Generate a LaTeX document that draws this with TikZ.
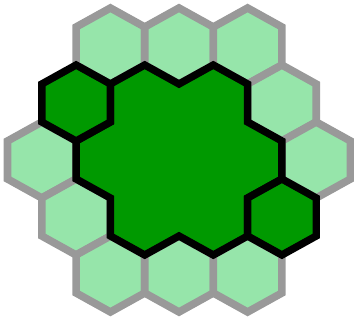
\documentclass[tikz,border=0pt]{standalone}
\usepackage{tikz}
\usetikzlibrary{calc}

\definecolor{palegreen}{RGB}{150,229,170}
\definecolor{deepgreen}{RGB}{0,153,0}
\definecolor{rimgray}{RGB}{153,153,153}

\begin{document}
\begin{tikzpicture}[
  x=34.3pt, y=-19pt,
  lighthex/.style={fill=palegreen,draw=rimgray,line width=7.6pt},
  darkhex/.style={fill=deepgreen,draw=black,line width=7.4pt}
]
\useasboundingbox (-5.219,-8.421) rectangle (5.102,8.526);
% outer ring of pale cells
\foreach \i/\u in {-2/-6,0/-6,2/-6,3/-3,-4/0,4/0,-3/3,-2/6,0/6,2/6}
  \draw[lighthex] (\i,\u) ++(0,-2) -- ++(1,1) -- ++(0,2) -- ++(-1,1)
    -- ++(-1,-1) -- ++(0,-2) -- cycle;
% the seven-cell patch
\draw[darkhex] (-1,-5) -- (0,-4) -- (1,-5) -- (2,-4) -- (2,-2) -- (3,-1)
  -- (3,1) -- (2,2) -- (2,4) -- (1,5) -- (0,4) -- (-1,5) -- (-2,4)
  -- (-2,2) -- (-3,1) -- (-3,-1) -- (-2,-2) -- (-2,-4) -- cycle;
% two lone cells
\foreach \i/\u in {-3/-3,3/3}
  \draw[darkhex] (\i,\u) ++(0,-2) -- ++(1,1) -- ++(0,2) -- ++(-1,1)
    -- ++(-1,-1) -- ++(0,-2) -- cycle;
\end{tikzpicture}
\end{document}
